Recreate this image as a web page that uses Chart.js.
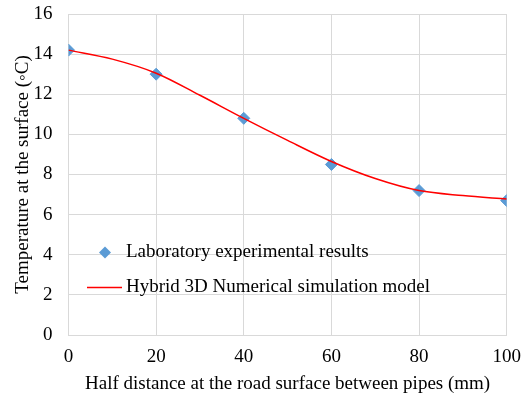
<!DOCTYPE html>
<html>
<head>
<meta charset="utf-8">
<script src="https://cdn.jsdelivr.net/npm/chart.js@4"></script>
<style>
html,body{margin:0;padding:0;background:#fff;}
#wrap{width:522px;height:400px;position:relative;}
</style>
</head>
<body>
<div id="wrap"><canvas id="c" width="522" height="400"></canvas></div>
<script>
// Data
const expX = [0, 20, 40, 60, 80, 100];
const expY = [14.2, 13.0, 10.8, 8.5, 7.2, 6.7];
const simX = [0, 10, 20, 30, 40, 50, 60, 70, 80, 90, 100];
const simY = [14.2, 13.75, 13.05, 11.95, 10.8, 9.7, 8.65, 7.8, 7.2, 6.95, 6.78];
const xTickLabels = ['0', '20', '40', '60', '80', '100'];
const yTickLabels = ['0', '2', '4', '6', '8', '10', '12', '14', '16'];
const seriesNames = ['Laboratory experimental results', 'Hybrid 3D Numerical simulation model'];
const xTitle = 'Half distance at the road surface between pipes (mm)';
const yTitle = 'Temperature at the surface (\u25E6C)';

const FONT = 'Liberation Serif, Times New Roman, serif';
const FS = 19;
const BLUE = '#5b9bd5';
const RED = '#ff0000';
const GRID = '#d9d9d9';

const legendPlugin = {
  id: 'insideLegend',
  afterDatasetsDraw(chart) {
    const ctx = chart.ctx;
    ctx.save();
    ctx.font = FS + 'px ' + FONT;
    ctx.textBaseline = 'middle';
    ctx.textAlign = 'left';
    const dx = 105, dy = 252.5, r = 6;
    ctx.fillStyle = BLUE;
    ctx.beginPath();
    ctx.moveTo(dx - r, dy); ctx.lineTo(dx, dy - r); ctx.lineTo(dx + r, dy); ctx.lineTo(dx, dy + r);
    ctx.closePath(); ctx.fill();
    ctx.fillStyle = '#000';
    ctx.fillText(seriesNames[0], 126, 252);
    ctx.strokeStyle = RED; ctx.lineWidth = 1.5;
    ctx.beginPath(); ctx.moveTo(87, 287.5); ctx.lineTo(122, 287.5); ctx.stroke();
    ctx.fillText(seriesNames[1], 126, 287);
    ctx.restore();
  }
};

new Chart(document.getElementById('c'), {
  type: 'scatter',
  data: {
    datasets: [
      {
        label: seriesNames[1],
        type: 'line',
        data: simX.map((x, i) => ({x: x, y: simY[i]})),
        borderColor: RED,
        borderWidth: 1.5,
        pointRadius: 0,
        fill: false,
        cubicInterpolationMode: 'monotone',
        order: 1
      },
      {
        label: seriesNames[0],
        data: expX.map((x, i) => ({x: x, y: expY[i]})),
        pointStyle: 'rectRot',
        pointRadius: 6,
        backgroundColor: BLUE,
        borderColor: BLUE,
        borderWidth: 1,
        order: 2
      }
    ]
  },
  options: {
    responsive: false,
    animation: false,
    layout: {padding: 0},
    plugins: {legend: {display: false}, tooltip: {enabled: false}},
    scales: {
      x: {
        type: 'linear', min: 0, max: 100,
        afterBuildTicks: s => { s.ticks = xTickLabels.map(v => ({value: Number(v)})); },
        ticks: {color: '#000', font: {family: FONT, size: FS}, padding: 11, maxRotation: 0,
                callback: (v) => String(v)},
        grid: {color: GRID, lineWidth: 1, drawTicks: false},
        border: {color: GRID},
        title: {display: true, text: xTitle, color: '#000', font: {family: FONT, size: FS}, padding: {top: 4, bottom: 5}},
        afterFit: s => { s.height = 65; s.paddingLeft = 0; s.paddingRight = 15.3; }
      },
      y: {
        min: 0, max: 16,
        afterBuildTicks: s => { s.ticks = yTickLabels.map(v => ({value: Number(v)})); },
        ticks: {color: '#000', font: {family: FONT, size: FS}, padding: 16, callback: (v) => String(v)},
        grid: {color: GRID, lineWidth: 1, drawTicks: false},
        border: {color: GRID},
        title: {display: true, text: yTitle, color: '#000', font: {family: FONT, size: FS}, padding: {top: 12, bottom: 0}},
        afterFit: s => { s.width = 68.5; s.paddingTop = 14; s.paddingBottom = 0; }
      }
    }
  },
  plugins: [legendPlugin]
});
</script>
</body>
</html>
